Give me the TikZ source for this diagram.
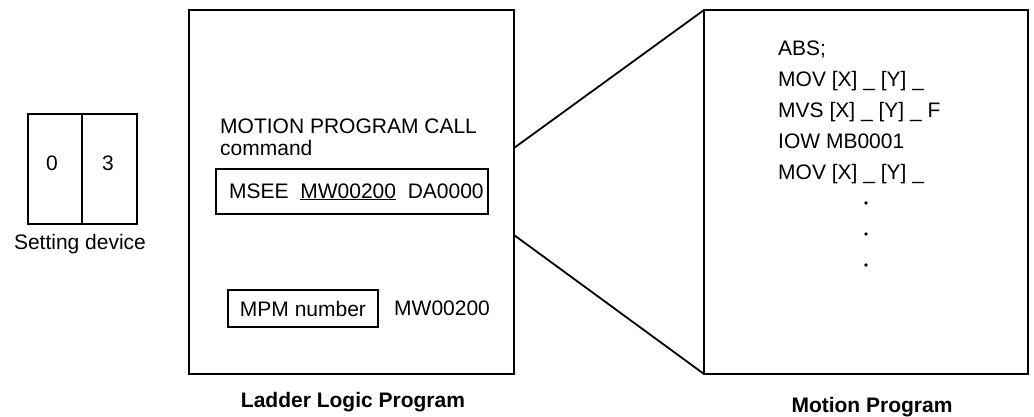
\documentclass[tikz,border=0pt]{standalone}
\usepackage{fontspec}
\setmainfont{Liberation Sans}
\usetikzlibrary{positioning}

\tikzstyle{txt} = [inner sep=0pt, font=\fontsize{21}{22}\selectfont]
\tikzstyle{frame} = [txt, draw, line width=1.8pt, outer sep=0pt]
\tikzstyle{caption} = [inner sep=0pt, font=\fontsize{21}{22}\selectfont\bfseries]
\tikzstyle{dot} = [circle, minimum width=3.6pt, fill, inner sep=0pt]

\begin{document}
\begin{tikzpicture}[x=1pt, y=-1pt]
\useasboundingbox (0,0) rectangle (1034,416);

% setting device
\node[frame, minimum width=54pt, minimum height=110pt] (dig0) at (55,169) {};
\node[frame, minimum width=55pt, minimum height=110pt, right=0pt of dig0] (dig1) {};
\node[txt] (val0) at (52,163) {0};
\node[txt] (val1) at (108,163) {3};
\node[txt, anchor=base] (devlabel) at (80,249) {Setting device};

% ladder logic program
\node[frame, minimum width=325pt, minimum height=364pt, anchor=north west] (ladder) at (189,10) {};
\node[txt, anchor=base west] (call) at (220,133) {MOTION PROGRAM CALL};
\node[txt, anchor=base west] (callcmd) at (220,155) {command};
\node[frame, minimum width=272pt, minimum height=45pt, anchor=north west] (msee) at (216,169) {};
\node[txt, anchor=base west] (mseecmd) at (229,198) {MSEE\ \ \underline{MW00200}\ \ DA0000};
\node[frame, minimum width=150pt, minimum height=37pt, anchor=north west] (mpm) at (228,290) {MPM number};
\node[txt, anchor=base west] (mpmval) at (394,315) {MW00200};
\node[caption, anchor=base] (ladderlabel) at (353,407) {Ladder Logic Program};

% motion program
\node[frame, minimum width=324pt, minimum height=364pt, anchor=north west] (motion) at (704,10) {};
\foreach \line [count=\i] in {{ABS;}, {MOV [X] \_ [Y] \_}, {MVS [X] \_ [Y] \_ F}, {IOW MB0001}, {MOV [X] \_ [Y] \_}}
    \node[txt, anchor=base west] (prog\i) at (778,24+31*\i) {\line};
\foreach \i in {1,2,3}
    \node[dot] (gap\i) at (866,172+31*\i) {};
\node[caption, anchor=base] (motionlabel) at (872,412) {Motion Program};

% zoom lines
\coordinate (zoomtop) at (ladder.east |- 0,148);
\coordinate (zoombot) at (ladder.east |- 0,235);
\draw[line width=1.8pt] (zoomtop) -- (motion.north west);
\draw[line width=1.8pt] (zoombot) -- (motion.south west);
\end{tikzpicture}
\end{document}
